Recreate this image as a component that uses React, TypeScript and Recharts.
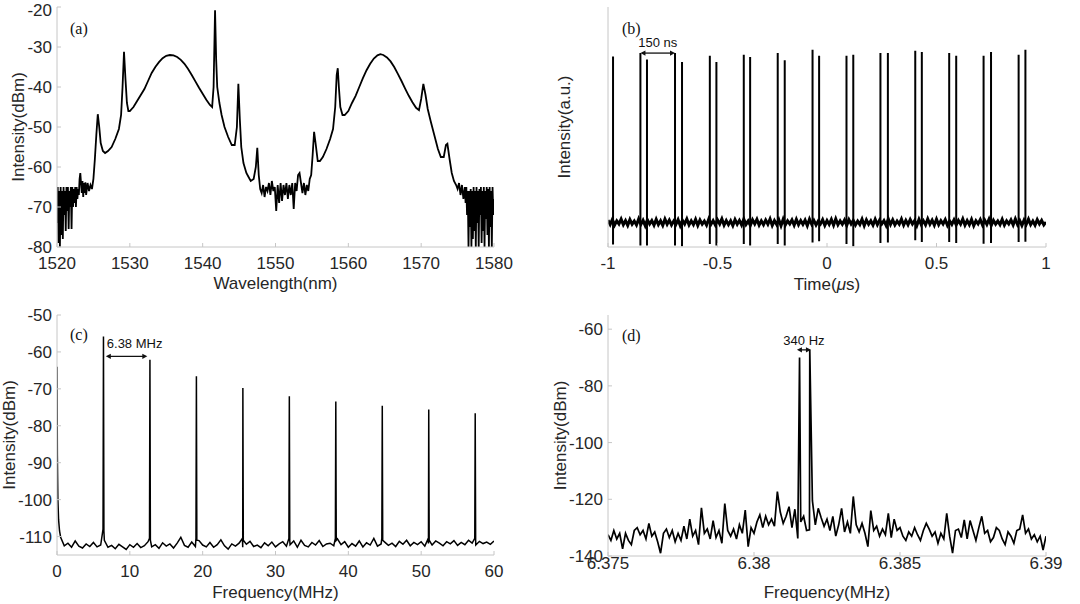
import React from "react";
import { LineChart, Line, XAxis, YAxis, ReferenceLine } from "recharts";

// ---------- (a) optical spectrum: [wavelength nm, intensity dBm] ----------
const spectrumA: [number, number][] = [
  [1520.0, -74], [1520.1, -65], [1520.2, -79], [1520.3, -66], [1520.4, -80], [1520.5, -65], [1520.6, -77], [1520.7, -66], [1520.8, -78], [1520.9, -65],
  [1521.0, -72], [1521.1, -66], [1521.2, -76], [1521.3, -65], [1521.4, -71], [1521.5, -65], [1521.6, -75.5], [1521.7, -66], [1521.8, -70], [1521.9, -65],
  [1522.0, -75.5], [1522.1, -65], [1522.2, -70], [1522.3, -65.5], [1522.4, -69], [1522.5, -65], [1522.6, -70], [1522.7, -65], [1522.8, -68], [1522.9, -65.5],
  [1523.0, -67], [1523.1, -63], [1523.2, -61.5], [1523.3, -64], [1523.4, -66.5], [1523.5, -63.5], [1523.6, -67.5], [1523.7, -64], [1523.8, -66.5], [1523.9, -63.8],
  [1524.0, -67], [1524.2, -64], [1524.4, -66], [1524.6, -64.5], [1524.8, -65.5], [1525.0, -63], [1525.2, -58], [1525.4, -52], [1525.6, -46.8], [1525.8, -50],
  [1526.0, -54], [1526.3, -56], [1526.6, -56.5], [1527.0, -56], [1527.5, -55], [1528.0, -53], [1528.5, -50.5], [1528.8, -47], [1529.0, -40], [1529.2, -31.2],
  [1529.4, -38], [1529.6, -44], [1529.8, -46], [1530.0, -46], [1530.5, -45], [1531.0, -43.5], [1531.5, -42], [1532.0, -40.5], [1532.5, -38.5], [1533.0, -36.5],
  [1533.5, -35], [1534.0, -33.8], [1534.5, -32.8], [1535.0, -32.2], [1535.5, -32], [1536.0, -32.1], [1536.5, -32.5], [1537.0, -33.2], [1537.5, -34.2], [1538.0, -35.5],
  [1538.5, -37], [1539.0, -38.6], [1539.5, -40.2], [1540.0, -41.7], [1540.5, -43.2], [1541.0, -44.5], [1541.3, -45], [1541.5, -40], [1541.7, -20.8], [1541.85, -33],
  [1542.0, -40], [1542.3, -44], [1542.6, -47], [1543.0, -50], [1543.5, -52.5], [1544.0, -54.5], [1544.4, -54.5], [1544.7, -50], [1544.9, -39.2], [1545.1, -48],
  [1545.3, -55], [1545.6, -59], [1546.0, -61.5], [1546.3, -62.5], [1546.6, -63.5], [1547.0, -63], [1547.3, -60], [1547.5, -55.2], [1547.7, -62], [1547.9, -65.5],
  [1548.1, -66.5], [1548.3, -64.5], [1548.5, -67.5], [1548.7, -65], [1548.9, -66], [1549.1, -64], [1549.3, -67], [1549.5, -63.5], [1549.7, -66], [1549.9, -65],
  [1550.1, -71], [1550.3, -64.5], [1550.5, -69], [1550.7, -64], [1550.9, -68.5], [1551.1, -64.5], [1551.3, -67], [1551.5, -64], [1551.7, -68], [1551.9, -64.5],
  [1552.1, -67], [1552.3, -64], [1552.5, -70.5], [1552.7, -64], [1552.9, -66], [1553.1, -62], [1553.3, -61.5], [1553.5, -64], [1553.7, -66.5], [1553.9, -64],
  [1554.1, -67], [1554.3, -64.5], [1554.5, -66], [1554.7, -63], [1554.9, -62], [1555.1, -57], [1555.3, -51.2], [1555.5, -54], [1555.8, -58.5], [1556.1, -58.5],
  [1556.5, -57.5], [1557.0, -55.5], [1557.5, -53], [1557.9, -50.5], [1558.2, -45], [1558.4, -37], [1558.55, -35.3], [1558.7, -40], [1558.9, -45], [1559.2, -47],
  [1559.5, -47], [1560.0, -46], [1560.5, -44], [1561.0, -42.2], [1561.5, -40], [1562.0, -37.8], [1562.5, -35.8], [1563.0, -34.2], [1563.5, -32.9], [1564.0, -32.1],
  [1564.4, -31.8], [1564.8, -32], [1565.3, -32.6], [1565.8, -33.6], [1566.3, -35], [1566.8, -36.7], [1567.3, -38.5], [1567.8, -40.4], [1568.3, -42.2], [1568.8, -43.8],
  [1569.3, -45.2], [1569.7, -45.8], [1570.0, -43], [1570.3, -39.2], [1570.6, -42], [1570.9, -45.5], [1571.3, -48.5], [1571.8, -52], [1572.3, -55.5], [1572.7, -57.5],
  [1573.1, -57.5], [1573.4, -54.5], [1573.6, -54.2], [1573.9, -58], [1574.2, -61.5], [1574.5, -63.5], [1574.8, -64.5], [1575.0, -65.5], [1575.2, -64], [1575.4, -67],
  [1575.6, -64.5], [1575.8, -68], [1576.0, -65], [1576.1, -69], [1576.2, -65], [1576.3, -72], [1576.4, -66], [1576.5, -80], [1576.6, -66], [1576.7, -75],
  [1576.8, -65.5], [1576.9, -80], [1577.0, -66], [1577.1, -78], [1577.2, -65], [1577.3, -76], [1577.4, -66], [1577.5, -80], [1577.6, -65], [1577.7, -74],
  [1577.8, -66], [1577.9, -80], [1578.0, -65.5], [1578.1, -72], [1578.2, -65], [1578.3, -79], [1578.4, -66], [1578.5, -76], [1578.6, -65], [1578.7, -80],
  [1578.8, -66], [1578.9, -73], [1579.0, -65], [1579.1, -77], [1579.2, -65.5], [1579.3, -80], [1579.4, -65], [1579.5, -75], [1579.6, -66], [1579.7, -80],
  [1579.8, -65], [1579.9, -72], [1580.0, -68],
];
const ticksAX = [1520, 1530, 1540, 1550, 1560, 1570, 1580];
const ticksAY = [-80, -70, -60, -50, -40, -30, -20];

// ---------- (b) pulse train ----------
const pulseTimesB = [-0.977, -0.852, -0.822, -0.694, -0.662, -0.535, -0.505, -0.38, -0.351, -0.225, -0.193, -0.066, -0.036, 0.089, 0.12, 0.244, 0.278, 0.403, 0.433, 0.558, 0.59, 0.715, 0.749, 0.875, 0.906];
const pulsePeaksB = [79.4, 80.8, 78.1, 80.8, 77.1, 79.7, 77.1, 80.1, 79.2, 80.8, 77.8, 82.2, 79.7, 79.7, 80.1, 80.8, 80.8, 81.8, 81.3, 80.8, 79.7, 79.7, 81.3, 80.1, 82.2];
const pulseTroughsB = [1.0, 0.6, 0.6, 0.6, 0.3, 1.25, 0.6, 1.25, 0.6, 1.25, 0.6, 1.9, 2.4, 1.25, 0.3, 1.7, 1.9, 2.8, 2.1, 2.1, 1.7, 1.4, 1.7, 2.1, 2.2];
// background level, evenly sampled from -1 to 1 us
const baselineB = [
  11.2, 9.4, 11.5, 9.1, 10.9, 9.6, 11.6, 9.3, 11.0, 9.0,
  11.4, 9.5, 10.8, 9.2, 11.7, 9.4, 11.1, 8.9, 11.3, 9.6,
  11.0, 9.1, 11.5, 9.3, 10.9, 9.0, 11.6, 9.5, 11.2, 9.2,
  10.8, 9.4, 11.4, 8.9, 11.1, 9.6, 11.7, 9.2, 10.9, 9.3,
  11.5, 9.0, 11.2, 9.5, 10.8, 9.1, 11.6, 9.4, 11.0, 9.2,
  11.3, 9.6, 11.7, 9.1, 11.0, 9.3, 10.9, 8.9, 11.4, 9.5,
  11.1, 9.2, 11.6, 9.4, 10.8, 9.0, 11.3, 9.6, 11.5, 9.1,
  10.9, 9.3, 11.2, 9.5, 11.7, 9.0, 11.0, 9.4, 11.4, 8.9,
  11.6, 9.2, 10.9, 9.6, 11.3, 9.1, 11.5, 9.3, 11.0, 9.4,
  11.2, 8.9, 11.6, 9.5, 11.1, 9.2, 10.8, 9.6, 11.4, 9.0,
  11.0, 9.4, 11.5, 9.1, 11.7, 9.3, 10.9, 9.5, 11.2, 9.0,
  11.4, 9.6, 11.1, 9.2, 10.8, 9.4, 11.6, 8.9, 11.3, 9.5,
  10.9, 9.1, 11.5, 9.3, 11.2, 9.6, 11.0, 9.0, 11.7, 9.4,
  11.3, 9.2, 10.8, 9.5, 11.6, 9.1, 11.1, 9.3, 11.4, 9.6,
  11.0, 8.9, 11.5, 9.4, 10.9, 9.2, 11.7, 9.5, 11.2, 9.1,
  11.6, 9.3, 11.0, 9.6, 11.4, 9.0, 10.8, 9.4, 11.3, 9.2,
  11.1, 9.5, 11.7, 9.1, 11.0, 9.3, 11.5, 8.9, 10.9, 9.6,
  11.4, 9.2, 11.2, 9.4, 11.6, 9.0, 11.1, 9.5, 10.8, 9.3,
  11.5, 9.1, 10.9, 9.6, 11.3, 9.2, 11.7, 9.4, 11.0, 9.0,
  11.2, 9.5, 11.6, 9.3, 10.8, 9.1, 11.4, 9.6, 11.1, 9.2,
  10.4,
];
const ticksBX = [-1, -0.5, 0, 0.5, 1];
const spacingB = { from: -0.852, to: -0.694, level: 80.8 };

// ---------- (c) RF spectrum, 0-60 MHz ----------
const dcFreqC = [0, 0.05, 0.12, 0.22, 0.35];
const dcLevelC = [-64, -88, -100, -105.5, -108.5];
// noise floor, 0.5 MHz to 60 MHz every 0.5 MHz
const floorC = [
  -110.2, -112.5, -111.8, -112.9, -111.2, -112.6, -113.1, -112.0, -112.7, -111.6,
  -112.8, -112.3, -111.0, -112.9, -112.4, -113.3, -112.1, -112.8, -113.5, -112.2,
  -112.9, -111.9, -113.0, -112.5, -111.4, -112.8, -112.2, -113.2, -111.7, -112.6,
  -112.0, -113.1, -111.8, -110.2, -112.4, -112.9, -111.5, -112.7, -111.1, -112.3,
  -112.8, -111.6, -112.9, -112.2, -110.9, -112.5, -113.4, -112.0, -112.6, -111.8,
  -112.9, -112.1, -111.3, -112.7, -112.3, -113.0, -111.7, -112.5, -111.5, -112.8,
  -112.0, -111.4, -112.6, -112.2, -111.2, -112.9, -111.0, -112.4, -112.8, -111.6,
  -112.3, -111.1, -112.7, -112.0, -111.8, -112.5, -110.6, -112.2, -111.4, -112.9,
  -111.9, -112.6, -111.2, -112.8, -111.7, -112.3, -110.5, -112.6, -112.0, -111.5,
  -112.4, -111.8, -112.7, -111.3, -112.1, -111.0, -112.5, -111.6, -112.2, -111.4,
  -112.6, -111.9, -112.3, -111.2, -111.8, -112.5, -111.4, -112.0, -111.1, -112.4,
  -111.6, -112.2, -111.0, -111.8, -112.3, -111.3, -111.9, -111.5, -112.1, -111.2,
];
const harmonicFreqC = [6.38, 12.76, 19.14, 25.52, 31.9, 38.28, 44.66, 51.04, 57.42];
const harmonicLevelC = [-55.8, -62.1, -66.6, -69.8, -72.0, -73.4, -74.6, -75.6, -76.6];
const harmonicBaseC = [-108, -110.5, -110.5, -110.5, -110.5, -110.5, -110.5, -110.5, -110.5];
const ticksCX = [0, 10, 20, 30, 40, 50, 60];
const ticksCY = [-110, -100, -90, -80, -70, -60, -50];
const spacingC = { from: 6.7, to: 12.4, level: -61.2 };

// ---------- (d) fundamental beat, 6.375-6.39 MHz ----------
// noise, every 0.1 kHz from 6.375 MHz
const noiseD = [
  -132.5, -134.5, -131, -134, -132, -137.5, -132, -134.5, -136, -131,
  -130, -132.5, -131, -134, -128.5, -133, -131.5, -135, -139, -132,
  -130.5, -133.5, -131, -135, -132, -134.5, -129.5, -134, -127, -133,
  -131, -136, -123, -132, -130.5, -134, -127.5, -133.5, -131, -135.5,
  -121.5, -131, -133, -130.5, -134, -129, -132, -123.8, -136.7, -130,
  -132, -128, -125.5, -130, -126, -129, -127, -129.5, -117.3, -124.5,
  -128.5, -126, -122.6, -130, -123.5, -133.8, -128, -126, -131, -130.8,
  -120.5, -129, -123.2, -126.5, -129.5, -127, -131, -126, -133, -129,
  -123.2, -131.5, -128, -132, -119, -129, -131.5, -128.5, -132, -136.7,
  -124, -131, -129.5, -133, -130.5, -132.5, -125, -133.5, -127, -131,
  -130, -133, -134.5, -131.5, -133, -130, -132.5, -134.5, -131, -128.5,
  -130.5, -133, -131.5, -135.5, -132, -134, -125, -133, -139, -131,
  -130.5, -133.5, -127.3, -134, -127.5, -131, -134.5, -130, -126, -132,
  -131, -135, -133.5, -130, -131, -134, -136, -131.5, -133, -135.5,
  -131, -130.5, -125.5, -132, -130.5, -134, -132.5, -135, -133, -137.9,
  -133,
];
const beatFreqD = [6.38156, 6.38191];
const beatLevelD = [-70, -67.3];
const ticksDX = [6.375, 6.38, 6.385, 6.39];
const ticksDY = [-140, -120, -100, -80, -60];
const spacingD = { from: 6.38147, to: 6.38195, level: -67.3 };

// ---------- built tables ----------
const spectrumData = spectrumA.map(([x, y]) => ({ x, y }));

const baselineData = baselineB.map((v, i) => ({ t: -1 + (2 * i) / (baselineB.length - 1), v }));
const pulseData = pulseTimesB.flatMap((t, i) => [
  { t, v: pulsePeaksB[i] as number | null },
  { t, v: pulseTroughsB[i] as number | null },
  { t: t + 0.0001, v: null as number | null },
]);

const rfData = [
  ...dcFreqC.map((f, i) => ({ f, v: dcLevelC[i] })),
  ...floorC.map((v, i) => ({ f: 0.5 + 0.5 * i, v })),
  ...harmonicFreqC.flatMap((f, i) => [
    { f: f - 0.06, v: harmonicBaseC[i] },
    { f, v: harmonicLevelC[i] },
    { f: f + 0.06, v: harmonicBaseC[i] - 0.5 },
  ]),
].sort((a, b) => a.f - b.f);

const beatData = [
  ...noiseD.map((v, i) => ({ f: 6.375 + i * 0.0001, v })),
  ...beatFreqD.map((f, i) => ({ f, v: beatLevelD[i] })),
].sort((a, b) => a.f - b.f);

// ---------- styling ----------
const GRAY = "#c6c6c6";
const TEXT = "#262626";
const FONT = "'Liberation Sans', Arial, Helvetica, sans-serif";
const tickStyle = { fontSize: 17, fill: TEXT, fontFamily: FONT };
const box = {
  axisLine: { stroke: GRAY },
  tickLine: { stroke: GRAY },
  tickSize: -4,
};

function yTitle(content: React.ReactNode, cx: number) {
  return (props: any) => {
    const vb = props.viewBox || { x: 0, y: 0, width: 0, height: 0 };
    const x = vb.x + cx;
    const y = vb.y + vb.height / 2;
    return (
      <text x={x} y={y} transform={`rotate(-90 ${x} ${y})`} textAnchor="middle" dominantBaseline="central" fontSize={17} fill={TEXT} fontFamily={FONT}>
        {content}
      </text>
    );
  };
}

function xTitle(content: React.ReactNode, dy: number) {
  return (props: any) => {
    const vb = props.viewBox || { x: 0, y: 0, width: 0, height: 0 };
    return (
      <text x={vb.x + vb.width / 2} y={vb.y + dy} textAnchor="middle" dominantBaseline="central" fontSize={17} fill={TEXT} fontFamily={FONT}>
        {content}
      </text>
    );
  };
}

function arrowShape(text: string, lift: number, anchor: "middle" | "start") {
  return (props: any) => {
    const { x1, y1, x2, y2 } = props;
    const ah = 5;
    const aw = 2.6;
    const tx = anchor === "middle" ? (x1 + x2) / 2 : x1 + 1;
    return (
      <g>
        <line x1={x1 + 2} y1={y1} x2={x2 - 2} y2={y2} stroke="#111" strokeWidth={1.3} />
        <path d={`M${x1},${y1} L${x1 + ah},${y1 - aw} L${x1 + ah},${y1 + aw} Z`} fill="#111" />
        <path d={`M${x2},${y2} L${x2 - ah},${y2 - aw} L${x2 - ah},${y2 + aw} Z`} fill="#111" />
        <text x={tx} y={y1 - lift} textAnchor={anchor} dominantBaseline="central" fontSize={13} fill="#111" fontFamily={FONT}>
          {text}
        </text>
      </g>
    );
  };
}

function PanelLabel({ text, left, baseline }: { text: string; left: number; baseline: number }) {
  return (
    <div
      style={{
        position: "absolute",
        left,
        top: baseline - 13.4,
        fontFamily: "'Liberation Serif', 'Times New Roman', serif",
        fontSize: 16,
        lineHeight: "16px",
        color: "#111",
        whiteSpace: "nowrap",
      }}
    >
      {text}
    </div>
  );
}

function PanelA() {
  return (
    <LineChart width={540} height={300} data={spectrumData} margin={{ top: 7, right: 46, bottom: 0, left: 0 }}>
      <XAxis dataKey="x" type="number" domain={[1520, 1580]} ticks={ticksAX} allowDataOverflow height={53} tick={tickStyle} tickMargin={13.5} label={xTitle("Wavelength(nm)", 36)} {...box} />
      <XAxis xAxisId="top" orientation="top" type="number" domain={[1520, 1580]} ticks={ticksAX} allowDataOverflow height={0} tick={false} {...box} />
      <YAxis type="number" domain={[-80, -20]} ticks={ticksAY} allowDataOverflow width={57} tick={tickStyle} tickMargin={9} label={yTitle("Intensity(dBm)", 18.5)} {...box} />
      <YAxis yAxisId="right" orientation="right" type="number" domain={[-80, -20]} ticks={ticksAY} allowDataOverflow width={0} tick={false} {...box} />
      <Line dataKey="y" type="linear" stroke="#000" strokeWidth={1.8} dot={false} isAnimationActive={false} />
    </LineChart>
  );
}

function PanelB() {
  return (
    <LineChart width={540} height={300} margin={{ top: 7, right: 34, bottom: 0, left: 0 }}>
      <XAxis dataKey="t" type="number" domain={[-1, 1]} ticks={ticksBX} allowDataOverflow height={53} tick={tickStyle} tickMargin={13.5}
        label={xTitle(<>Time(<tspan fontStyle="italic">μ</tspan>s)</>, 37)} {...box} />
      <XAxis xAxisId="top" orientation="top" type="number" domain={[-1, 1]} ticks={ticksBX} allowDataOverflow height={0} tick={false} {...box} />
      <YAxis type="number" domain={[0, 100]} allowDataOverflow width={68} tick={false} axisLine={{ stroke: GRAY }} tickLine={false} label={yTitle("Intensity(a.u.)", 24.5)} />
      <YAxis yAxisId="right" orientation="right" type="number" domain={[0, 100]} allowDataOverflow width={0} tick={false} axisLine={{ stroke: GRAY }} tickLine={false} />
      <Line data={baselineData} dataKey="v" type="linear" stroke="#000" strokeWidth={3} dot={false} isAnimationActive={false} />
      <Line data={pulseData} dataKey="v" type="linear" stroke="#000" strokeWidth={2} dot={false} connectNulls={false} isAnimationActive={false} />
      <ReferenceLine segment={[{ x: spacingB.from, y: spacingB.level }, { x: spacingB.to, y: spacingB.level }]} shape={arrowShape("150 ns", 11, "middle")} />
    </LineChart>
  );
}

function PanelC() {
  return (
    <LineChart width={540} height={304} data={rfData} margin={{ top: 15, right: 46, bottom: 0, left: 0 }}>
      <XAxis dataKey="f" type="number" domain={[0, 60]} ticks={ticksCX} allowDataOverflow height={49} tick={tickStyle} tickMargin={14} label={xTitle("Frequency(MHz)", 37.3)} {...box} />
      <XAxis xAxisId="top" orientation="top" type="number" domain={[0, 60]} ticks={ticksCX} allowDataOverflow height={0} tick={false} {...box} />
      <YAxis type="number" domain={[-115, -50]} ticks={ticksCY} allowDataOverflow width={57} tick={tickStyle} tickMargin={9} label={yTitle("Intensity(dBm)", 9.7)} {...box} />
      <YAxis yAxisId="right" orientation="right" type="number" domain={[-115, -50]} ticks={ticksCY} allowDataOverflow width={0} tick={false} {...box} />
      <Line dataKey="v" type="linear" stroke="#000" strokeWidth={1.5} dot={false} isAnimationActive={false} />
      <ReferenceLine segment={[{ x: spacingC.from, y: spacingC.level }, { x: spacingC.to, y: spacingC.level }]} shape={arrowShape("6.38 MHz", 13, "start")} />
    </LineChart>
  );
}

function PanelD() {
  return (
    <LineChart width={540} height={304} data={beatData} margin={{ top: 15, right: 34, bottom: 0, left: 0 }}>
      <XAxis dataKey="f" type="number" domain={[6.375, 6.39]} ticks={ticksDX} allowDataOverflow height={48} tick={tickStyle} tickMargin={4.7} label={xTitle("Frequency(MHz)", 36.3)} {...box} />
      <XAxis xAxisId="top" orientation="top" type="number" domain={[6.375, 6.39]} ticks={ticksDX} allowDataOverflow height={0} tick={false} {...box} />
      <YAxis type="number" domain={[-140, -55]} ticks={ticksDY} allowDataOverflow width={68} tick={tickStyle} tickMargin={9} label={yTitle("Intensity(dBm)", 20)} {...box} />
      <YAxis yAxisId="right" orientation="right" type="number" domain={[-140, -55]} ticks={ticksDY} allowDataOverflow width={0} tick={false} {...box} />
      <Line dataKey="v" type="linear" stroke="#000" strokeWidth={1.7} dot={false} isAnimationActive={false} />
      <ReferenceLine segment={[{ x: spacingD.from, y: spacingD.level }, { x: spacingD.to, y: spacingD.level }]} shape={arrowShape("340 Hz", 9.5, "middle")} />
    </LineChart>
  );
}

export default function App() {
  return (
    <div style={{ position: "absolute", left: 0, top: 0, width: 1080, height: 604, background: "#fff", overflow: "hidden" }}>
      <div style={{ position: "absolute", left: 0, top: 0 }}><PanelA /></div>
      <div style={{ position: "absolute", left: 540, top: 0 }}><PanelB /></div>
      <div style={{ position: "absolute", left: 0, top: 300 }}><PanelC /></div>
      <div style={{ position: "absolute", left: 540, top: 300 }}><PanelD /></div>
      <PanelLabel text="(a)" left={70} baseline={34} />
      <PanelLabel text="(b)" left={622} baseline={34} />
      <PanelLabel text="(c)" left={70} baseline={340} />
      <PanelLabel text="(d)" left={622} baseline={341} />
    </div>
  );
}
